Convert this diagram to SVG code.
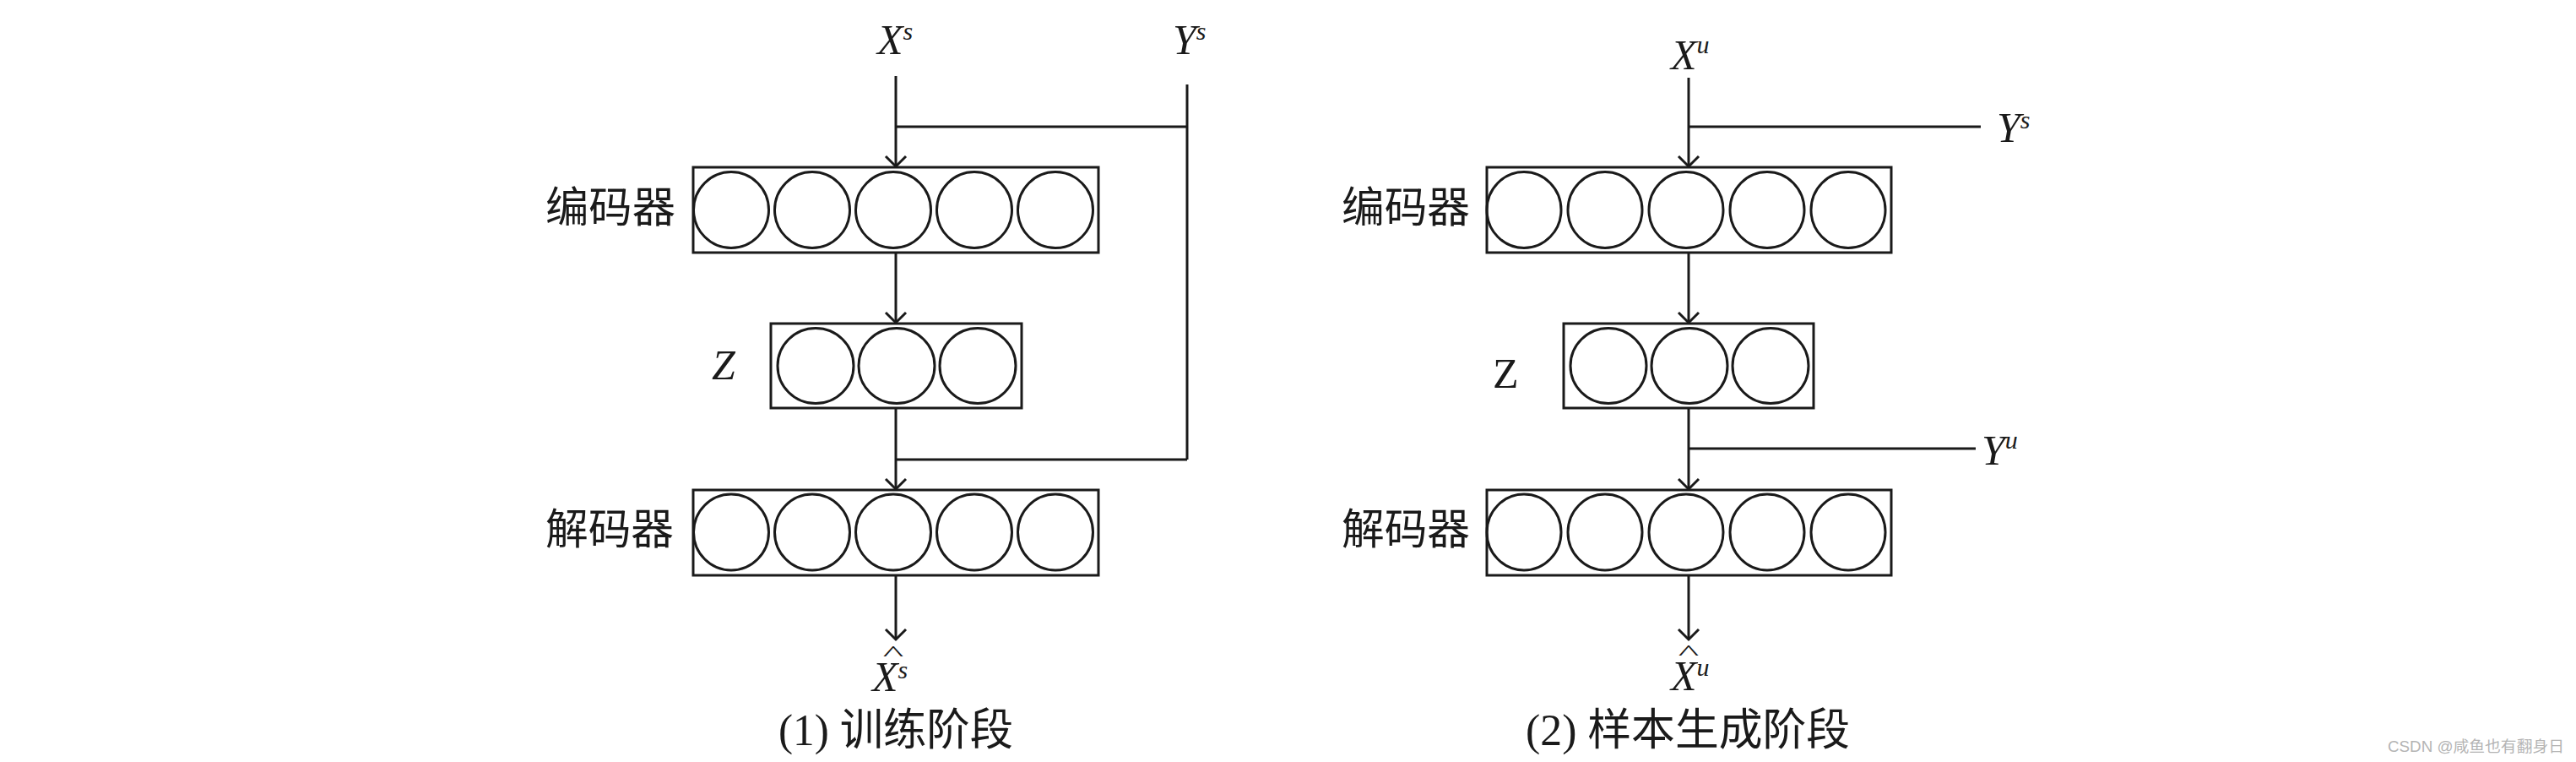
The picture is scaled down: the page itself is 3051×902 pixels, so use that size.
<svg xmlns="http://www.w3.org/2000/svg" width="3051" height="902" viewBox="0 0 3051 902">
<style>
.box{fill:none;stroke:#1a1a1a;stroke-width:3}
.unit{fill:none;stroke:#1a1a1a;stroke-width:3}
.wire{fill:none;stroke:#1a1a1a;stroke-width:3}
.arr{marker-end:url(#ah)}
.math{font-family:"Liberation Serif","Times New Roman",serif;font-style:italic;font-size:50px;fill:#1a1a1a}
.up{font-style:normal}
.sup{font-size:30px}
.hat{font-family:"Liberation Serif",serif;font-size:26px;fill:#1a1a1a;text-anchor:middle}
.cjk{font-family:"Liberation Serif","Noto Sans CJK SC",serif;font-size:50px;fill:#1a1a1a}
.cap{font-family:"Liberation Serif","Noto Sans CJK SC",serif;font-size:52px;fill:#1a1a1a}
.wm{font-family:"Liberation Sans","Noto Sans CJK SC",sans-serif;font-size:18px;fill:#b4b4b4}
</style>
<defs>
<marker id="ah" markerUnits="userSpaceOnUse" markerWidth="32" markerHeight="32" viewBox="-16 -16 20 32" refX="0" refY="0" orient="auto">
<path d="M-12,-12 L0,0 L-12,12" fill="none" stroke="#1a1a1a" stroke-width="3"/>
</marker>
</defs>
<rect width="3051" height="902" fill="#ffffff"/>

<g id="connectors">
<path class="wire arr" d="M1061,90 V197"/>
<path class="wire" d="M1406,100 V544"/>
<path class="wire" d="M1061,150 H1406"/>
<path class="wire arr" d="M1061,299 V382"/>
<path class="wire arr" d="M1061,483 V579"/>
<path class="wire" d="M1061,544 H1406"/>
<path class="wire arr" d="M1061,681 V757"/>

<path class="wire arr" d="M2000,92 V197"/>
<path class="wire" d="M2000,150 H2346"/>
<path class="wire arr" d="M2000,299 V382"/>
<path class="wire arr" d="M2000,483 V579"/>
<path class="wire" d="M2000,531 H2340"/>
<path class="wire arr" d="M2000,681 V757"/>
</g>

<g id="left-input-x">
<text class="math" x="1039" y="64">X<tspan class="sup" dy="-17">s</tspan></text>
</g>
<g id="left-input-y">
<text class="math" x="1389" y="64">Y<tspan class="sup" dy="-17">s</tspan></text>
</g>

<g id="left-encoder">
<text class="cjk" x="646" y="263" textLength="154" lengthAdjust="spacingAndGlyphs">编码器</text>
<rect class="box" x="821" y="198" width="480" height="101"/>
<ellipse class="unit" cx="866" cy="248.5" rx="44.5" ry="45"/>
<ellipse class="unit" cx="962" cy="248.5" rx="44.5" ry="45"/>
<ellipse class="unit" cx="1058" cy="248.5" rx="44.5" ry="45"/>
<ellipse class="unit" cx="1154" cy="248.5" rx="44.5" ry="45"/>
<ellipse class="unit" cx="1250" cy="248.5" rx="44.5" ry="45"/>
</g>

<g id="left-z">
<text class="math" x="843" y="449">Z</text>
<rect class="box" x="913" y="383" width="297" height="100"/>
<ellipse class="unit" cx="966" cy="433" rx="45" ry="44.5"/>
<ellipse class="unit" cx="1062" cy="433" rx="45" ry="44.5"/>
<ellipse class="unit" cx="1158" cy="433" rx="45" ry="44.5"/>
</g>

<g id="left-decoder">
<text class="cjk" x="646" y="644" textLength="152" lengthAdjust="spacingAndGlyphs">解码器</text>
<rect class="box" x="821" y="580" width="480" height="101"/>
<ellipse class="unit" cx="866" cy="630" rx="44.5" ry="45"/>
<ellipse class="unit" cx="962" cy="630" rx="44.5" ry="45"/>
<ellipse class="unit" cx="1058" cy="630" rx="44.5" ry="45"/>
<ellipse class="unit" cx="1154" cy="630" rx="44.5" ry="45"/>
<ellipse class="unit" cx="1250" cy="630" rx="44.5" ry="45"/>
</g>

<g id="left-output">
<text class="hat" transform="translate(1058,782) scale(2,1)">^</text>
<text class="math" x="1033" y="818">X<tspan class="sup" dy="-15">s</tspan></text>
</g>

<g id="left-caption">
<text class="cap" x="922" y="882" textLength="278" lengthAdjust="spacingAndGlyphs">(1) 训练阶段</text>
</g>

<g id="right-input-x">
<text class="math" x="1979" y="82">X<tspan class="sup" dy="-19">u</tspan></text>
</g>
<g id="right-input-ys">
<text class="math" x="2365" y="168">Y<tspan class="sup" dy="-16">s</tspan></text>
</g>

<g id="right-encoder">
<text class="cjk" x="1589" y="263" textLength="152" lengthAdjust="spacingAndGlyphs">编码器</text>
<rect class="box" x="1761" y="198" width="479" height="101"/>
<ellipse class="unit" cx="1805" cy="248.5" rx="44" ry="45"/>
<ellipse class="unit" cx="1901" cy="248.5" rx="44" ry="45"/>
<ellipse class="unit" cx="1997" cy="248.5" rx="44" ry="45"/>
<ellipse class="unit" cx="2093" cy="248.5" rx="44" ry="45"/>
<ellipse class="unit" cx="2189" cy="248.5" rx="44" ry="45"/>
</g>

<g id="right-z">
<text class="math up" x="1768" y="459">Z</text>
<rect class="box" x="1852" y="383" width="296" height="100"/>
<ellipse class="unit" cx="1905" cy="433" rx="45" ry="44.5"/>
<ellipse class="unit" cx="2001" cy="433" rx="45" ry="44.5"/>
<ellipse class="unit" cx="2097" cy="433" rx="45" ry="44.5"/>
</g>

<g id="right-input-yu">
<text class="math" x="2347" y="550">Y<tspan class="sup" dy="-19">u</tspan></text>
</g>

<g id="right-decoder">
<text class="cjk" x="1589" y="644" textLength="152" lengthAdjust="spacingAndGlyphs">解码器</text>
<rect class="box" x="1761" y="580" width="479" height="101"/>
<ellipse class="unit" cx="1805" cy="630" rx="44" ry="45"/>
<ellipse class="unit" cx="1901" cy="630" rx="44" ry="45"/>
<ellipse class="unit" cx="1997" cy="630" rx="44" ry="45"/>
<ellipse class="unit" cx="2093" cy="630" rx="44" ry="45"/>
<ellipse class="unit" cx="2189" cy="630" rx="44" ry="45"/>
</g>

<g id="right-output">
<text class="hat" transform="translate(2000,781) scale(2,1)">^</text>
<text class="math" x="1979" y="817">X<tspan class="sup" dy="-17">u</tspan></text>
</g>

<g id="right-caption">
<text class="cap" x="1807" y="882" textLength="384" lengthAdjust="spacingAndGlyphs">(2) 样本生成阶段</text>
</g>

<g id="watermark">
<text class="wm" x="2828" y="890" textLength="209" lengthAdjust="spacingAndGlyphs">CSDN @咸鱼也有翻身日</text>
</g>
</svg>
